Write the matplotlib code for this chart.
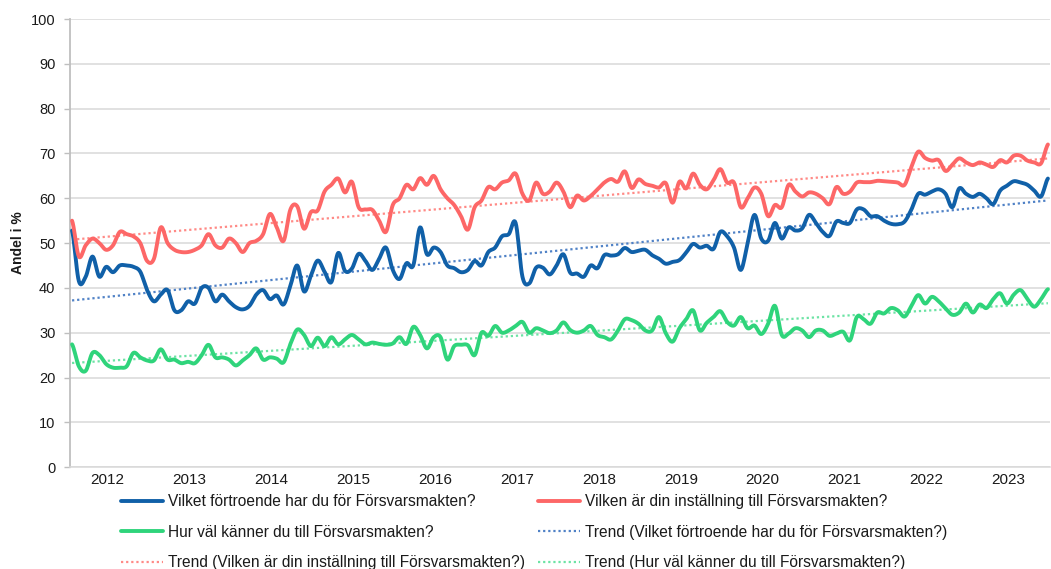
"""Försvarsmakten opinion: förtroende, inställning och kännedom per månad 2012-2023."""

import matplotlib
matplotlib.use("Agg")
import matplotlib.pyplot as plt
import numpy as np

plt.rcParams["font.family"] = ["Liberation Sans", "DejaVu Sans"]

# månadsvärden jan 2012 - dec 2023 (andel i %)
years = list(range(2012, 2024))

fortroende = [
    52.8, 41.5, 42.5, 47.0, 42.5, 44.7, 43.5, 45.0, 45.0, 44.7, 43.6, 39.5,
    37.0, 38.5, 39.5, 35.0, 35.0, 37.0, 36.5, 40.0, 40.0, 37.0, 38.5, 37.0,
    35.7, 35.2, 36.0, 38.5, 39.5, 37.5, 38.3, 36.3, 40.5, 45.0, 39.2, 42.7,
    46.1, 43.6, 41.3, 47.8, 43.8, 44.3, 47.6, 46.0, 44.0, 46.5, 49.0, 44.0,
    42.0, 45.5, 45.0, 53.5, 47.5, 49.0, 48.0, 45.0, 44.4, 43.5, 44.0, 46.0,
    45.0, 48.0, 49.0, 51.5, 52.0, 54.5, 42.5, 41.0, 44.5, 44.5, 43.0, 45.0,
    47.5, 43.4, 43.2, 42.5, 45.0, 44.4, 47.3, 47.2, 47.5, 48.9, 48.0, 48.3,
    48.5, 47.3, 46.5, 45.4, 45.8, 46.2, 47.9, 49.8, 49.0, 49.4, 48.7, 52.5,
    51.5, 49.0, 44.0, 50.0, 56.3, 51.0, 50.5, 54.5, 51.0, 53.5, 52.8, 53.3,
    56.3, 54.5, 52.5, 51.6, 54.8, 54.5, 54.5, 57.5, 57.5, 56.0, 56.0, 55.0,
    54.3, 54.2, 54.8, 57.5, 61.0, 60.8, 61.5, 62.0, 61.0, 58.0, 62.2, 61.0,
    60.3, 61.0, 60.0, 58.7, 61.7, 62.8, 63.8, 63.5, 63.0, 61.7, 60.4, 64.4,
]

installning = [
    55.0, 47.0, 49.5, 51.0, 50.0, 48.5, 49.5, 52.5, 52.0, 51.5, 50.0, 46.0,
    46.5, 53.5, 50.0, 48.5, 48.0, 48.0, 48.5, 49.5, 52.0, 49.5, 49.0, 51.0,
    50.0, 48.0, 50.0, 50.5, 52.0, 56.5, 53.5, 50.5, 57.5, 58.2, 53.2, 56.9,
    57.3, 61.5, 63.0, 64.4, 61.3, 63.7, 58.0, 57.5, 57.4, 55.0, 52.5, 58.5,
    60.0, 63.0, 62.0, 64.5, 63.0, 65.0, 62.0, 60.0, 58.5, 56.0, 53.0, 58.0,
    59.5, 62.5, 62.0, 63.5, 64.0, 65.5, 61.0, 59.5, 63.5, 61.0, 61.5, 63.5,
    61.5, 58.0, 60.6, 59.5, 60.5, 62.0, 63.5, 64.3, 63.7, 66.0, 62.3, 64.2,
    63.2, 62.8, 62.4, 63.4, 59.0, 63.7, 62.2, 65.5, 63.0, 62.0, 64.0, 66.5,
    63.5, 63.5, 58.0, 60.0, 62.4, 61.0, 56.0, 58.5, 58.0, 63.0, 61.5, 60.4,
    61.3, 61.0, 60.0, 58.7, 62.5, 61.0, 61.5, 63.5, 63.6, 63.6, 63.9, 63.8,
    63.7, 63.5, 63.0, 67.0, 70.4, 69.0, 68.4, 68.5, 66.1, 67.5, 68.9, 68.0,
    67.4, 68.0, 67.5, 67.0, 68.5, 68.0, 69.5, 69.5, 68.4, 68.0, 67.8, 72.0,
]

kannedom = [
    27.4, 22.5, 21.5, 25.5, 25.0, 23.0, 22.2, 22.2, 22.5, 25.5, 24.5, 23.8,
    23.8, 26.3, 24.0, 24.0, 23.2, 23.5, 23.2, 25.0, 27.3, 24.5, 24.5, 24.0,
    22.7, 23.8, 25.0, 26.5, 24.0, 24.5, 24.2, 23.4, 27.5, 30.7, 29.5, 27.0,
    28.9, 27.0, 29.0, 27.4, 28.5, 29.5, 28.5, 27.4, 27.8, 27.5, 27.3, 27.6,
    29.0, 27.5, 31.3, 29.5, 26.5, 29.0, 29.0, 24.0, 27.0, 27.3, 27.2, 25.0,
    30.0, 29.3, 31.5, 30.0, 30.5, 31.5, 32.4, 30.0, 31.0, 30.5, 29.9, 30.5,
    32.3, 30.6, 30.0, 30.5, 31.5, 29.5, 29.0, 28.5, 30.5, 33.0, 32.8, 32.0,
    30.5, 30.5, 33.5, 29.9, 28.0, 31.0, 33.0, 35.0, 30.5, 32.2, 33.5, 34.8,
    32.4, 31.6, 33.5, 31.0, 31.6, 29.7, 32.0, 36.0, 29.5, 29.8, 31.0, 30.5,
    29.0, 30.5, 30.5, 29.3, 29.8, 30.2, 28.3, 33.5, 33.0, 32.0, 34.5, 34.3,
    35.5, 35.0, 33.6, 36.0, 38.4, 36.5, 38.0, 37.0, 35.4, 34.0, 34.5, 36.5,
    34.5, 36.3, 35.5, 37.5, 38.8, 36.5, 38.5, 39.5, 37.5, 35.8, 37.5, 39.7,
]

labels = [
    "Vilket förtroende har du för Försvarsmakten?",
    "Vilken är din inställning till Försvarsmakten?",
    "Hur väl känner du till Försvarsmakten?",
]

COLORS = ["#1060a8", "#fd6767", "#2fd47b"]
TREND_COLORS = ["#4f81c6", "#ff8a86", "#6ce3a4"]


def smooth(y, steps=10):
    """Catmull-Rom-kurva genom punkterna, som Excels utjämnade linje."""
    y = np.asarray(y, dtype=float)
    p = np.concatenate([[y[0]], y, [y[-1]]])
    t = np.linspace(0, 1, steps, endpoint=False)
    parts = []
    for k in range(len(y) - 1):
        p0, p1, p2, p3 = p[k:k + 4]
        parts.append(0.5 * (2 * p1 + (-p0 + p2) * t
                            + (2 * p0 - 5 * p1 + 4 * p2 - p3) * t ** 2
                            + (-p0 + 3 * p1 - 3 * p2 + p3) * t ** 3))
    parts.append([y[-1]])
    xs = np.linspace(0, len(y) - 1, (len(y) - 1) * steps + 1)
    return xs, np.concatenate(parts)


fig = plt.figure(figsize=(10.51, 5.69), dpi=100)
ax = fig.add_axes([0.0666, 0.179, 0.9324, 0.7876])

series = [fortroende, installning, kannedom]
x = np.arange(len(fortroende))
lines = []
trends = []
for vals, lab, c, tc in zip(series, labels, COLORS, TREND_COLORS):
    xs, ys = smooth(vals)
    ln, = ax.plot(xs, ys, color=c, lw=2.8, label=lab, solid_capstyle="round",
                  zorder=3)
    lines.append(ln)
    k, m = np.polyfit(x, vals, 1)
    tr, = ax.plot(x, k * x + m, color=tc, lw=1.6, ls=(0, (1, 1.3)),
                  label=f"Trend ({lab})", zorder=2)
    trends.append(tr)

ax.set_xlim(-0.3, 143.3)
ax.set_ylim(0, 100)
ax.set_yticks(range(0, 101, 10))
ax.set_xticks([(yr - 2012) * 12 + 5.2 for yr in years])
ax.set_xticklabels([str(yr) for yr in years])
ax.grid(axis="y", color="#d9d9d9", lw=1.1)
ax.set_axisbelow(True)

for s in ["top", "right"]:
    ax.spines[s].set_visible(False)
ax.spines["left"].set_color("#bfbfbf")
ax.spines["left"].set_linewidth(1.3)
ax.spines["bottom"].set_color("#d9d9d9")
ax.spines["bottom"].set_linewidth(1.1)

ax.tick_params(axis="y", length=4.5, width=1, color="#bfbfbf", pad=6,
               labelsize=10.5, labelcolor="#1a1a1a")
ax.tick_params(axis="x", length=0, pad=4, labelsize=11, labelcolor="#1a1a1a")
ax.set_ylabel("Andel i %", fontsize=10, fontweight="bold", color="#1a1a1a",
              labelpad=4)

# två kolumner, radvis ordning som i originalet
leg_kw = dict(frameon=False, fontsize=11.2, handlelength=2.7,
              handletextpad=0.3, labelspacing=1.0, borderpad=0,
              borderaxespad=0, loc="upper left")
leg1 = fig.legend(handles=[lines[0], lines[2], trends[1]],
                  bbox_to_anchor=(121 / 1051, 1 - 494 / 569), **leg_kw)
for t in leg1.get_texts():
    t.set_color("#1a1a1a")
leg2 = fig.legend(handles=[lines[1], trends[0], trends[2]],
                  bbox_to_anchor=(538 / 1051, 1 - 494 / 569), **leg_kw)
for t in leg2.get_texts():
    t.set_color("#1a1a1a")

fig.savefig("out.png", dpi=100)
